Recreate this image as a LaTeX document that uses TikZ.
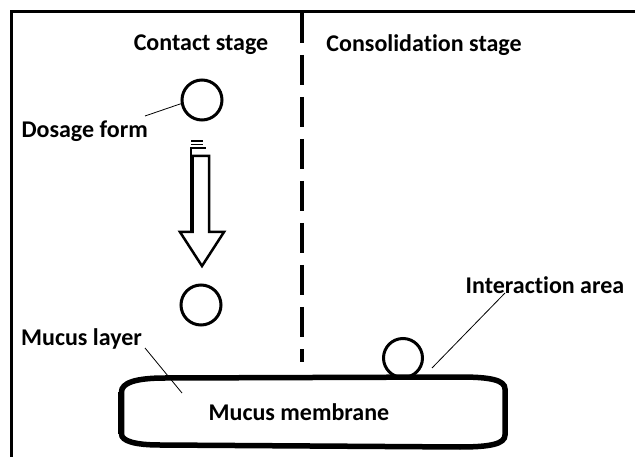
\documentclass[tikz,border=0pt]{standalone}
\usepackage{fontspec}
\setmainfont{Carlito}[RawFeature={-liga;-clig;-dlig}]
\begin{document}
\begin{tikzpicture}[x=1pt,y=-1pt,
  lbl/.style={font=\fontsize{24}{26}\selectfont\bfseries, inner sep=0pt},
  pill/.style={draw, line width=3pt, circle, minimum size=40pt, inner sep=0pt},
  leader/.style={line width=0.8pt},
  frame/.style={line width=3pt},
  divider/.style={line width=4pt, dash pattern=on 30pt off 12pt},
  slab/.style={line width=5.5pt},
  streak/.style={line width=1.5pt},
  blockarrow/.style={line width=2.5pt, line join=miter}]
\useasboundingbox (0,0) rectangle (635,457);
\fill[white] (0,0) rectangle (635,457);

% outer frame (top and left edges)
\draw[frame] (11.5,457) -- (11.5,11.5) -- (635,11.5);

% stage divider
\coordinate (divtop) at (302,13);
\coordinate (divbot) at (302,362);
\draw[divider] (divtop) -- (divbot);

% stage titles
\node[lbl] (contact) at (201,45) {Contact stage};
\node[lbl] (consol) at (424,45) {Consolidation stage};

% dosage form before contact
\node[pill] (pilltop) at (202,100) {};
\node[lbl, anchor=east] (dosage) at (148,131) {Dosage form};
\coordinate (dosagetip) at (145,116);
\draw[leader] (dosagetip) -- (pilltop.190);

% motion streaks above the arrow
\draw[streak] (191,141) -- (203,141);
\draw[streak] (191,144.5) -- (203,144.5);
\draw[streak] (191,156) -- (191,148) -- (206,148);

% hollow block arrow pointing down
\draw[blockarrow] (192.5,156) -- (209,156) -- (209,232) -- (224,232)
  -- (202,266) -- (180,232) -- (192.5,232) -- cycle;
\draw[line width=1.5pt] (191,156) -- (191,232);

% dosage form on the mucus
\node[pill] (pillbot) at (201,305) {};

% mucus membrane slab
\draw[slab] (165,378) -- (460,377)
  .. controls (490,377) and (505,380) .. (505,389)
  -- (505,435)
  .. controls (505,444) and (490,447) .. (460,447)
  -- (160,445)
  .. controls (135,445) and (121.5,441) .. (121.5,434)
  -- (121.5,392)
  .. controls (121.5,383) and (135,378) .. (165,378) -- cycle;
\draw[line width=3pt] (119.5,392) -- (119.5,434);
\node[lbl] (membrane) at (299,412) {Mucus membrane};

% mucus layer label
\node[lbl, anchor=west] (layer) at (21,339) {Mucus layer};
\coordinate (layertip) at (145,348);
\coordinate (layerend) at (182,393);
\draw[leader] (layertip) -- (layerend);

% adhered dosage form and interaction area
\node[pill, minimum size=39pt] (pillon) at (403,358) {};
\node[lbl] (interact) at (545,285) {Interaction area};
\coordinate (interacttip) at (505,293);
\coordinate (interactend) at (432,368);
\draw[leader] (interacttip) -- (interactend);
\end{tikzpicture}
\end{document}
